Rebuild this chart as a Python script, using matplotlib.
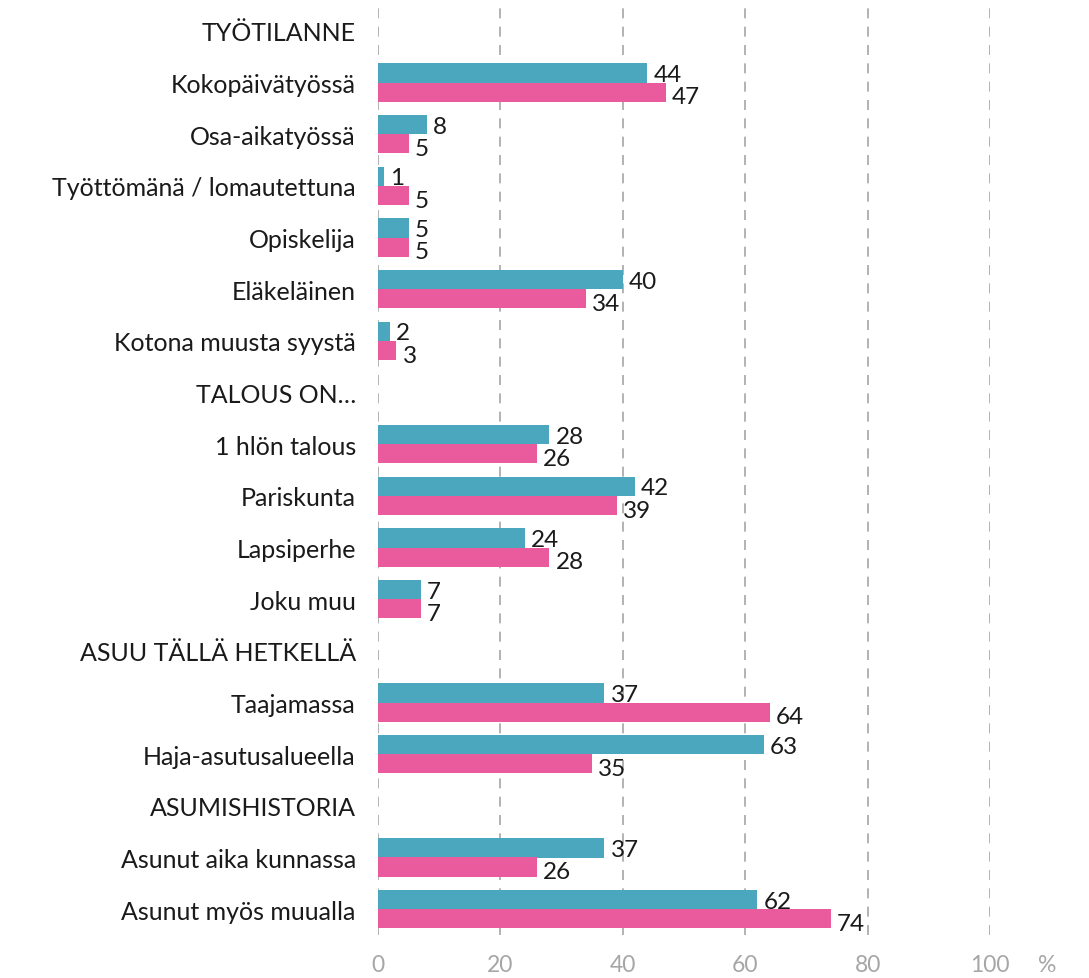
import numpy as np
import matplotlib.pyplot as plt

plt.rcParams['font.family'] = ['Lato', 'DejaVu Sans']

labels = ["TYÖTILANNE", "Kokopäivätyössä", "Osa-aikatyössä", "Työttömänä / lomautettuna",
          "Opiskelija", "Eläkeläinen", "Kotona muusta syystä", "TALOUS ON…",
          "1 hlön talous", "Pariskunta", "Lapsiperhe", "Joku muu",
          "ASUU TÄLLÄ HETKELLÄ", "Taajamassa", "Haja-asutusalueella",
          "ASUMISHISTORIA", "Asunut aika kunnassa", "Asunut myös muualla"]
teal = [None, 44, 8, 1, 5, 40, 2, None, 28, 42, 24, 7, None, 37, 63, None, 37, 62]
pink = [None, 47, 5, 5, 5, 34, 3, None, 26, 39, 28, 7, None, 64, 35, None, 26, 74]
ticks = [0, 20, 40, 60, 80, 100]

c_teal = "#4BA7BD"
c_pink = "#EA5B9D"

fig = plt.figure(figsize=(10.89, 9.79), dpi=100)
ax = fig.add_axes([378/1089, 1-936/979, (990-378)/1089, (936-6)/979])

n = len(labels)
y = np.arange(n)
h = 0.37
for i in range(n):
    if teal[i] is None:
        continue
    ax.barh(y[i] - h/2, teal[i], height=h, color=c_teal, zorder=3)
    ax.barh(y[i] + h/2, pink[i], height=h, color=c_pink, zorder=3)
    ax.text(teal[i] + 1.0, y[i] - h/2 + 0.03, str(teal[i]), va='center', ha='left',
            fontsize=17.5, color='#1a1a1a', zorder=4)
    ax.text(pink[i] + 1.0, y[i] + h/2 + 0.09, str(pink[i]), va='center', ha='left',
            fontsize=17.5, color='#1a1a1a', zorder=4)

ax.set_ylim(n - 0.5, -0.5)
ax.set_xlim(0, 100)
ax.set_yticks(y)
ax.set_yticklabels(labels, fontsize=18, color='#1a1a1a')
ax.set_xticks(ticks)
ax.set_xticklabels([str(t) for t in ticks], fontsize=16.5, color='#A6A6A6')
ax.tick_params(length=0, axis='y', pad=16)
ax.tick_params(length=0, axis='x', pad=14)
for s in ax.spines.values():
    s.set_visible(False)
for t in ticks:
    ax.axvline(t, color='#A6A6A6', linestyle=(0, (6, 5)), linewidth=1.2, zorder=1)
ax.text(1.0 + 57/612, -0.032, "%", transform=ax.transAxes, fontsize=16.5,
        color='#A6A6A6', ha='center', va='center')

fig.savefig("out.png", dpi=100)
